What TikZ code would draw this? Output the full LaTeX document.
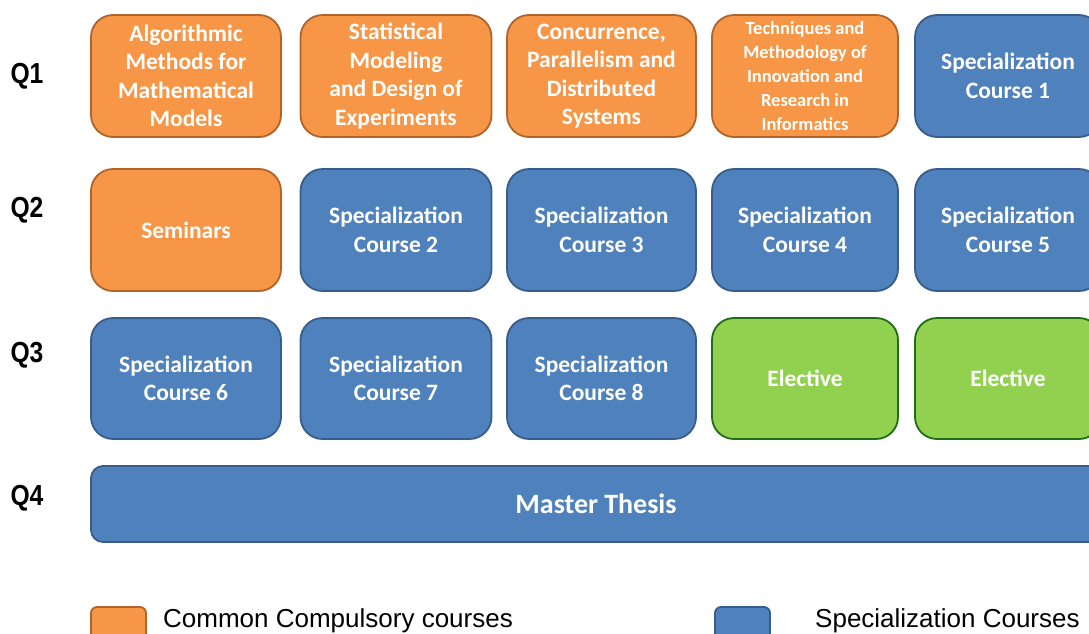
\documentclass[tikz,border=0pt]{standalone}
\usepackage{fontspec}
\newfontfamily\boxfont{Carlito}
\newfontfamily\qfont[FakeStretch=0.85]{Liberation Sans}
\newfontfamily\legfont{Liberation Sans}
\definecolor{orfill}{HTML}{F79646}
\definecolor{ordraw}{HTML}{B0642B}
\definecolor{blfill}{HTML}{4F81BD}
\definecolor{bldraw}{HTML}{385D8A}
\definecolor{grfill}{HTML}{92D050}
\definecolor{grdraw}{HTML}{1F6E14}
\begin{document}
\begin{tikzpicture}[x=1pt, y=-1pt,
    course/.style={draw, line width=1.8pt, rounded corners=22pt, text=white, align=center,
        font=\boxfont\bfseries\fontsize{23.5}{28.5}\selectfont, inner sep=0pt},
    common/.style={course, fill=orfill, draw=ordraw},
    special/.style={course, fill=blfill, draw=bldraw},
    elective/.style={course, fill=grfill, draw=grdraw},
    quarter/.style={font=\qfont\bfseries\fontsize{29}{29}\selectfont},
    legtext/.style={font=\legfont\fontsize{26}{26}\selectfont, anchor=base west, inner sep=0pt}]
    \useasboundingbox (0,0) rectangle (1089,633);
    \clip (0,0) rectangle (1089,633);
    % quarters
    \node[quarter] (q1) at (27,76) {Q1};
    \node[quarter] (q2) at (27,210) {Q2};
    \node[quarter] (q3) at (27,355) {Q3};
    \node[quarter] (q4) at (27,498) {Q4};
    % Q1
    \node[common, minimum width=190pt, minimum height=122pt] (algo) at (186,76)
        {Algorithmic\\Methods for\\Mathematical\\Models};
    \node[common, minimum width=191pt, minimum height=122pt] (stat) at (396,76)
        {Statistical\\Modeling\\and Design of\\Experiments};
    \node[common, minimum width=189pt, minimum height=122pt] (conc) at (601.5,76)
        {Concurrence,\\Parallelism and\\Distributed\\Systems};
    \node[common, minimum width=186pt, minimum height=122pt,
        font=\boxfont\bfseries\fontsize{18.5}{24}\selectfont] (tech) at (805,76)
        {Techniques and\\Methodology of\\Innovation and\\Research in\\Informatics};
    \node[special, minimum width=186pt, minimum height=122pt] (sc1) at (1008,76)
        {Specialization\\Course 1};
    % Q2
    \node[common, minimum width=190pt, minimum height=122pt] (sem) at (186,230) {Seminars};
    \node[special, minimum width=191pt, minimum height=122pt] (sc2) at (396,230)
        {Specialization\\Course 2};
    \node[special, minimum width=189pt, minimum height=122pt] (sc3) at (601.5,230)
        {Specialization\\Course 3};
    \node[special, minimum width=186pt, minimum height=122pt] (sc4) at (805,230)
        {Specialization\\Course 4};
    \node[special, minimum width=186pt, minimum height=122pt] (sc5) at (1008,230)
        {Specialization\\Course 5};
    % Q3
    \node[special, minimum width=190pt, minimum height=121pt] (sc6) at (186,378.5)
        {Specialization\\Course 6};
    \node[special, minimum width=191pt, minimum height=121pt] (sc7) at (396,378.5)
        {Specialization\\Course 7};
    \node[special, minimum width=189pt, minimum height=121pt] (sc8) at (601.5,378.5)
        {Specialization\\Course 8};
    \node[elective, minimum width=186pt, minimum height=121pt] (el1) at (805,378.5) {Elective};
    \node[elective, minimum width=186pt, minimum height=121pt] (el2) at (1008,378.5) {Elective};
    % Q4
    \node[special, minimum width=1010pt, minimum height=76pt, rounded corners=12pt,
        font=\boxfont\bfseries\fontsize{28}{28}\selectfont] (thesis) at (596,504) {Master Thesis};
    % legend
    \node[common, rounded corners=6pt, minimum width=55pt, minimum height=36pt] (lcom) at (118.5,625) {};
    \node[legtext] (tcom) at (163,627) {Common Compulsory courses};
    \node[special, rounded corners=6pt, minimum width=55pt, minimum height=36pt] (lspe) at (742.5,625) {};
    \node[legtext] (tspe) at (815,627) {Specialization Courses};
\end{tikzpicture}
\end{document}
